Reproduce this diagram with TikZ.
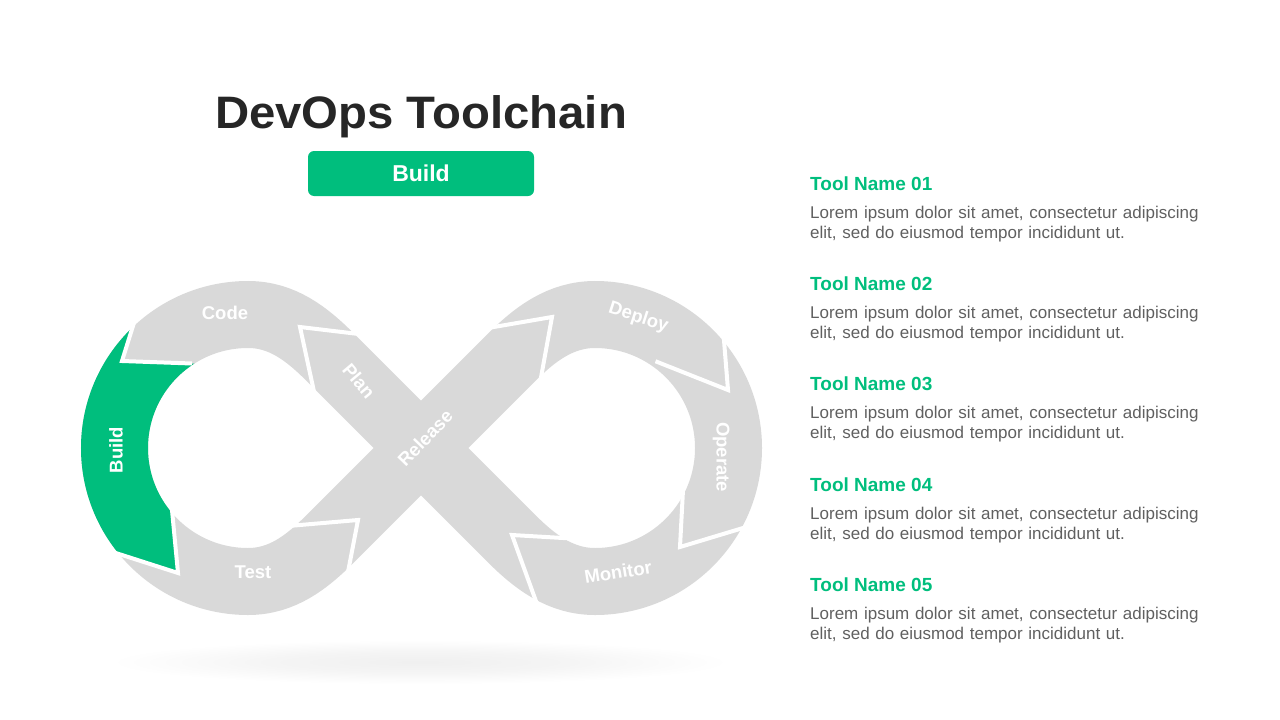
\documentclass[tikz,border=0pt]{standalone}
\usepackage{fontspec}
\setmainfont{Liberation Sans}
\newfontfamily\headfont[FakeStretch=1.04]{Liberation Sans}
\usetikzlibrary{calc}

\definecolor{devgreen}{RGB}{0,190,125}
\definecolor{bandgray}{RGB}{217,217,217}
\definecolor{titlegray}{RGB}{38,38,38}
\definecolor{textgray}{RGB}{96,96,96}

\pgfdeclareradialshading{floorshadow}{\pgfpoint{0bp}{0bp}}{color(0bp)=(black!6); color(12bp)=(black!4); color(25bp)=(white); color(50bp)=(white)}

\tikzset{
  band/.style={line width=67pt, draw=bandgray},
  notch/.style={draw=white, line width=4pt, line join=miter},
  phase/.style={text=white, font=\bfseries\fontsize{18.5}{20}\selectfont, inner sep=0pt, text depth=0pt},
  toolname/.style={anchor=base west, text=devgreen, font=\bfseries\fontsize{19}{22}\selectfont, inner sep=0pt},
  tooltext/.style={anchor=base west, text=textgray, font=\fontsize{17}{20}\selectfont, inner sep=0pt, text width=430pt, align=left},
}

% centre line of the loop
\newcommand{\infinityline}{(pA) .. controls +(-24,-24) and +(34,0) .. (TL) arc[start angle=270, end angle=90, radius=133.5] .. controls +(34,0) and +(-24,24) .. (rA) -- (C) -- (rB) .. controls +(24,-24) and +(-34,0) .. (TR) arc[start angle=-90, end angle=90, radius=133.5] .. controls +(-34,0) and +(24,24) .. (pB) -- cycle}
% white arrow seam: end, tip, end
\newcommand{\bandcut}[3]{\draw[notch] ($(#2)!1.25!(#1)$) -- (#2) -- ($(#2)!1.25!(#3)$);}

\begin{document}
\begin{tikzpicture}[x=1pt, y=-1pt]
\useasboundingbox (0,0) rectangle (1280,720);

\coordinate (C) at (421,448);
\coordinate (pA) at (330.5,357.5);
\coordinate (pB) at (511.5,538.5);
\coordinate (rA) at (330.5,538.5);
\coordinate (rB) at (511.5,357.5);
\coordinate (TL) at (248,314.5);
\coordinate (TR) at (595,314.5);

% shadow
\shade[shading=floorshadow] (420,662) ellipse [x radius=310, y radius=22];

\draw[band] \infinityline;

% build part in green
\begin{scope}
  \clip ($(122,361)!1.3!(138,310)$) -- (122,361) -- ($(122,361)!1.6!(178,363)$)
     -- ($(178,573)!1.6!(172,510)$) -- (178,573) -- ($(178,573)!1.5!(122,555)$)
     -- (30,620) -- (30,270) -- cycle;
  \draw[band, draw=devgreen] \infinityline;
\end{scope}

\bandcut{367,335}{300,327}{313,387} % plan / code
\bandcut{138,310}{122,361}{178,363} % code / build
\bandcut{122,555}{178,573}{172,510} % build / test
\bandcut{300,525}{358,520}{348,572} % test / release
\bandcut{488,328}{552,317}{542,372} % release / deploy
\bandcut{670,367}{728,390}{723,328} % deploy / operate
\bandcut{683,490}{680,547}{743,528} % operate / monitor
\bandcut{563,538}{512,535}{533,593} % monitor / plan

\node[phase] (code) at (225,313) {Code};
\node[phase, rotate=-50] (plan) at (359,381) {Plan};
\node[phase, rotate=90] (build) at (116,450) {Build};
\node[phase] (test) at (253,572) {Test};
\node[phase, rotate=46] (release) at (425,438) {Release};
\node[phase, rotate=-18] (deploy) at (639,316) {Deploy};
\node[phase, rotate=-90] (operate) at (723,457) {Operate};
\node[phase, rotate=9] (monitor) at (618,572) {Monitor};

% heading
\node[anchor=base, text=titlegray, font=\headfont\bfseries\fontsize{45.5}{52}\selectfont] (title) at (421,128) {DevOps Toolchain};
\node[fill=devgreen, rounded corners=6pt, minimum width=226pt, minimum height=45pt, text=white, font=\bfseries\fontsize{23}{26}\selectfont] (badge) at (421,173.5) {Build};

% tool list
\foreach \i/\y in {1/190, 2/290, 3/390, 4/491, 5/591} {
  \node[toolname] (tool\i) at (810,\y) {Tool Name 0\i};
  \node[tooltext] (desc\i) at (810,\y+28) {Lorem ipsum dolor sit amet, consectetur adipiscing\\elit, sed do eiusmod tempor incididunt ut.};
}
\end{tikzpicture}
\end{document}
